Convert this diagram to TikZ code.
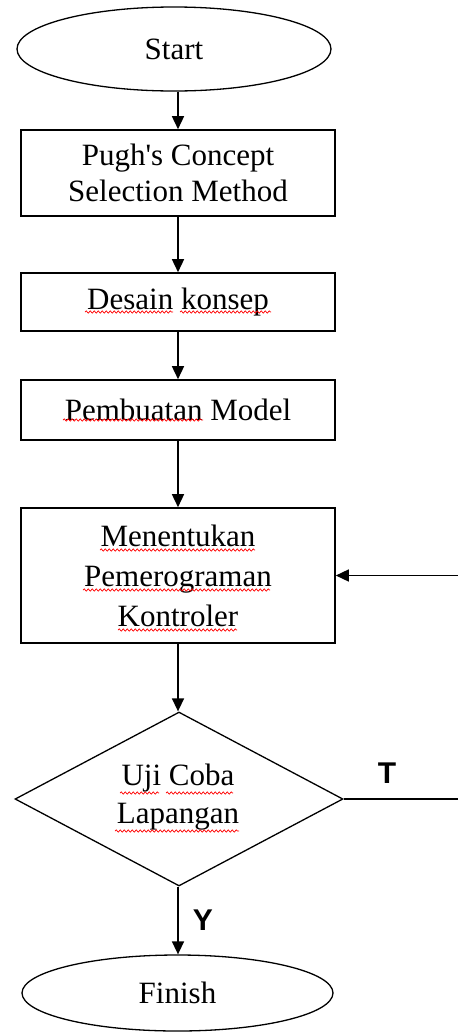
\documentclass[tikz,border=0pt]{standalone}
\usepackage{fontspec}
\setmainfont{Liberation Serif}
\newfontfamily\arialfont{Liberation Sans}
\usetikzlibrary{shapes.geometric,arrows.meta,decorations.pathmorphing}
\begin{document}
\begin{tikzpicture}[x=1pt,y=-1pt,
 every node/.style={font=\fontsize{31}{36}\selectfont},
 box/.style={draw, line width=1.6pt, minimum width=314pt, inner sep=0pt, align=center},
 term/.style={draw, ellipse, line width=1.3pt, inner sep=0pt},
 decision/.style={draw, diamond, line width=1.3pt, inner sep=0pt},
 conn/.style={line width=1.5pt, -{Triangle[width=12pt,length=13pt]}},
 plain/.style={line width=1.5pt},
 squig/.style={red, line width=0.7pt, decorate, decoration={snake, amplitude=1.1pt, segment length=4pt}},
 lbl/.style={font=\arialfont\bfseries\fontsize{30}{36}\selectfont}]
\useasboundingbox (0,0) rectangle (458,1034);
\node[term, minimum width=314pt, minimum height=84pt] (start) at (174,49) {Start};
\node[box, minimum height=86pt] (pugh) at (178,173) {Pugh\textquotesingle s Concept\\Selection Method};
\node[box, minimum height=58pt] (desain) at (178,302) {Desain konsep};
\node[box, minimum height=60pt] (buat) at (178,410) {Pembuatan Model};
\node[box, minimum height=135pt, font=\fontsize{31}{40}\selectfont] (ment) at (178,575.5) {Menentukan\\Pemerograman\\Kontroler};
\node[decision, minimum width=328pt, minimum height=174pt] (uji) at (179,799) {};
\node[align=center, font=\fontsize{31}{38}\selectfont] (ujitext) at (178,797) {Uji Coba\\Lapangan};
\node[term, minimum width=311pt, minimum height=76pt] (finish) at (177.5,993) {Finish};
\coordinate (ret) at (458,575.5);
\coordinate (tend) at (458,799);
\draw[conn] (pugh.north |- start.south) -- (pugh.north);
\draw[conn] (pugh) -- (desain);
\draw[conn] (desain) -- (buat);
\draw[conn] (buat) -- (ment);
\draw[conn] (ment.south) -- (ment.south |- uji.north);
\draw[conn] (ment.south |- uji.south) -- (ment.south |- finish.north);
\draw[plain] (uji.east) -- (tend);
\draw[conn] (ret) -- (ment.east);
\node[lbl] (t) at (387,773) {T};
\node[lbl] (y) at (203,920) {Y};
% spell-check underlines
\draw[squig] (85,312) -- (173,312);
\draw[squig] (180,312) -- (271,312);
\draw[squig] (63,420) -- (203,420);
\draw[squig] (100,550) -- (255,550);
\draw[squig] (83,590) -- (270,590);
\draw[squig] (118,630) -- (237,630);
\draw[squig] (120,793) -- (159,793);
\draw[squig] (166,793) -- (233,793);
\draw[squig] (115,831) -- (239,831);
\end{tikzpicture}
\end{document}
